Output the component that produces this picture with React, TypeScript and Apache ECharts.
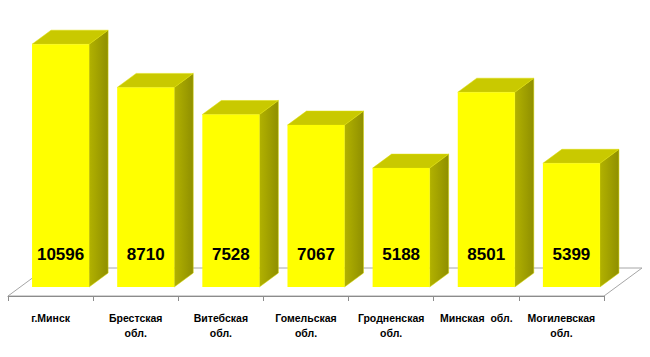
import React, { useEffect, useRef } from "react";
import * as echarts from "echarts";

const categories = [
  "г.Минск",
  "Брестская\nобл.",
  "Витебская\nобл.",
  "Гомельская\nобл.",
  "Гродненская\nобл.",
  "Минская  обл.",
  "Могилевская\nобл.",
];
const values = [10596, 8710, 7528, 7067, 5188, 8501, 5399];

export default function App() {
  const ref = useRef<HTMLDivElement>(null);
  useEffect(() => {
    document.body.style.margin = "0";
    const chart = echarts.init(ref.current!, null, { renderer: "svg" });
    const depthX = 19;
    const depthY = 14;
    const lift = 9;
    const floorDX = 38;
    const floorDY = 28;
    chart.setOption({
      animation: false,
      backgroundColor: "#ffffff",
      grid: { left: 8, right: 46, top: 21, bottom: 61 },
      xAxis: {
        type: "category",
        data: categories,
        boundaryGap: true,
        axisLine: { show: true, lineStyle: { color: "#8c8c8c", width: 1 } },
        axisTick: { show: true, length: 5, lineStyle: { color: "#8c8c8c" } },
        axisLabel: {
          interval: 0,
          margin: 14,
          fontSize: 10.5,
          fontWeight: "bold",
          color: "#000",
          fontFamily: "Liberation Sans, Arial, sans-serif",
          lineHeight: 15,
        },
        z: 5,
      },
      yAxis: {
        type: "value",
        min: 0,
        max: 12000,
        show: false,
        splitLine: { show: false },
      },
      series: [
        {
          type: "custom",
          z: 1,
          silent: true,
          data: [[0, 0]],
          renderItem: (params: any, api: any) => {
            const band = api.size([1, 0])[0];
            const p0 = api.coord([0, 0]);
            const p1 = api.coord([categories.length - 1, 0]);
            const l = p0[0] - band / 2;
            const r = p1[0] + band / 2;
            const y = p0[1];
            return {
              type: "polygon",
              shape: {
                points: [
                  [l, y],
                  [r, y],
                  [r + floorDX, y - floorDY],
                  [l + floorDX, y - floorDY],
                ],
              },
              style: { fill: "#ffffff", stroke: "#a6a6a6", lineWidth: 1 },
            };
          },
        },
        {
          type: "custom",
          z: 3,
          data: values.map((v, i) => [i, v]),
          renderItem: (params: any, api: any) => {
            const i = api.value(0);
            const v = api.value(1);
            const band = api.size([1, 0])[0];
            const base = api.coord([i, 0]);
            const top = api.coord([i, v]);
            const w = band * 0.67;
            const cx = base[0] + 10;
            const y0 = base[1] - lift;
            const y1 = top[1] - lift;
            const xl = cx - w / 2;
            const xr = cx + w / 2;
            return {
              type: "group",
              children: [
                {
                  type: "polygon",
                  shape: {
                    points: [
                      [xr, y1],
                      [xr + depthX, y1 - depthY],
                      [xr + depthX, y0 - depthY],
                      [xr, y0],
                    ],
                  },
                  style: {
                    fill: new echarts.graphic.LinearGradient(0, 0, 1, 0, [
                      { offset: 0, color: "#b2b200" },
                      { offset: 1, color: "#8f8f00" },
                    ]),
                    stroke: "#d6d600",
                    lineWidth: 0.5,
                  },
                },
                {
                  type: "polygon",
                  shape: {
                    points: [
                      [xl, y1],
                      [xl + depthX, y1 - depthY],
                      [xr + depthX, y1 - depthY],
                      [xr, y1],
                    ],
                  },
                  style: { fill: "#c9c900", stroke: "#dede00", lineWidth: 0.5 },
                },
                {
                  type: "rect",
                  shape: { x: xl, y: y1, width: w, height: y0 - y1 },
                  style: { fill: "#ffff00" },
                },
                {
                  type: "text",
                  style: {
                    text: String(v),
                    x: cx,
                    y: y0 - 33,
                    align: "center",
                    verticalAlign: "middle",
                    fill: "#000",
                    font: "bold 17px 'Liberation Sans', Arial, sans-serif",
                  },
                },
              ],
            };
          },
        },
      ],
    });
    return () => chart.dispose();
  }, []);
  return <div ref={ref} style={{ width: 650, height: 357 }} />;
}
